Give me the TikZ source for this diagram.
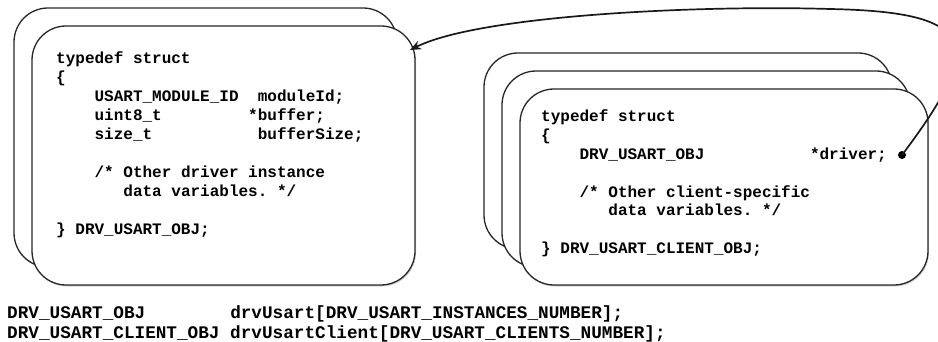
\documentclass[tikz,border=0pt]{standalone}
\usepackage{fontspec}
\setmonofont{Liberation Mono}
\usetikzlibrary{arrows.meta,positioning,shadows}

\tikzset{
  structbox/.style={draw=black!85, line width=1.3pt, rounded corners=34pt, fill=white,
    outer sep=0pt, inner sep=0pt,
    drop shadow={shadow xshift=1pt, shadow yshift=-1.5pt, opacity=.35}},
  drvbox/.style={structbox, minimum width=383pt, minimum height=259pt},
  clientbox/.style={structbox, minimum width=408pt, minimum height=196pt},
  % base west sits on the last line of the block
  code/.style={font=\ttfamily\bfseries\fontsize{16}{19}\selectfont, align=left,
    inner sep=0pt, anchor=base west},
  arraycode/.style={code, font=\ttfamily\bfseries\fontsize{17.7}{19.7}\selectfont},
  ptr/.style={circle, fill=black, inner sep=0pt, minimum size=8pt},
  link/.style={-{Stealth[length=11pt,width=9pt]}, line width=1.7pt, black!90},
}

\begin{document}
\begin{tikzpicture}[x=1pt, y=-1pt]
  \useasboundingbox (0,0) rectangle (938,342);
  \clip (0,0) rectangle (938,342);

  % driver instance objects
  \node[drvbox, anchor=north west] (drvBack) at (14,8) {};
  \node[drvbox, below right=18pt and 18pt of drvBack.north west] (drvObj) {};
  \node[code] (drvCode) at ([shift={(24,208)}]drvObj.north west)
    {typedef struct\\
     \{\\
     ~~~~USART\_MODULE\_ID~~moduleId;\\
     ~~~~uint8\_t~~~~~~~~~*buffer;\\
     ~~~~size\_t~~~~~~~~~~~bufferSize;\\[19pt]
     ~~~~/* Other driver instance\\
     ~~~~~~~data variables. */\\[19pt]
     \} DRV\_USART\_OBJ;};

  % client objects
  \node[clientbox, anchor=north west] (clientBack) at (484,53) {};
  \node[clientbox, below right=18pt and 18pt of clientBack.north west] (clientMid) {};
  \node[clientbox, below right=18pt and 18pt of clientMid.north west] (clientObj) {};
  \node[code] (clientCode) at ([shift={(21,165)}]clientObj.north west)
    {typedef struct\\
     \{\\
     ~~~~DRV\_USART\_OBJ~~~~~~~~~~~*driver;\\[19pt]
     ~~~~/* Other client-specific\\
     ~~~~~~~data variables. */\\[19pt]
     \} DRV\_USART\_CLIENT\_OBJ;};

  % driver pointer back to the instance
  \node[ptr] (ptrDot) at ([shift={(-26,66)}]clientObj.north east) {};
  \coordinate (drvTip) at ([shift={(-5,24)}]drvObj.north east);
  \draw[link] (ptrDot.center) .. controls (985,45) and (980,12) .. (830,9)
    .. controls (700,5) and (480,15) .. (drvTip);

  % the object arrays
  \node[arraycode] (arrays) at (7,338)
    {DRV\_USART\_OBJ~~~~~~~~drvUsart[DRV\_USART\_INSTANCES\_NUMBER];\\
     DRV\_USART\_CLIENT\_OBJ drvUsartClient[DRV\_USART\_CLIENTS\_NUMBER];};
\end{tikzpicture}
\end{document}
